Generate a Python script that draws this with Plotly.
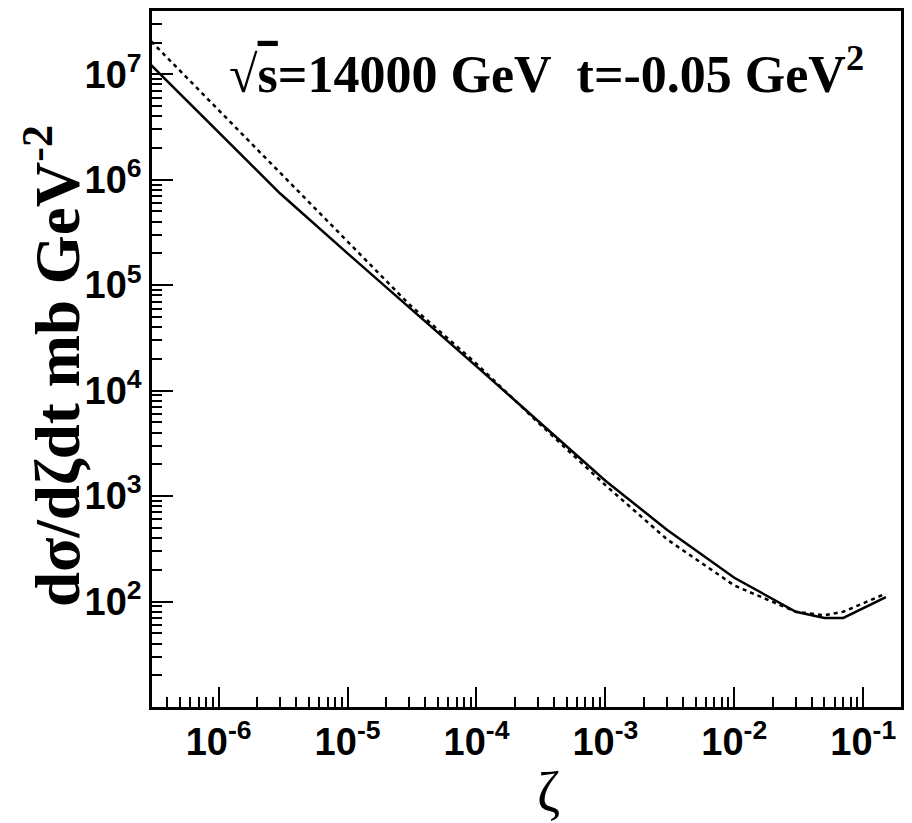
import plotly.graph_objects as go

# Single-diffractive cross section dσ/dζdt at √s = 14 TeV, t = -0.05 GeV²
zeta_solid = [3.0e-7, 3.0e-6, 1.0e-5, 1.0e-4, 1.0e-3, 3.0e-3, 1.0e-2, 3.0e-2, 5.0e-2, 7.0e-2, 0.15]
xsec_solid = [1.22e7, 7.4e5, 2.0e5, 1.7e4, 1.4e3, 480.0, 168.0, 80.0, 70.0, 70.0, 110.0]

zeta_dashed = [3.0e-7, 1.0e-6, 3.0e-6, 1.0e-5, 3.0e-5, 1.0e-4, 3.0e-4, 1.0e-3, 3.0e-3, 1.0e-2, 3.0e-2, 5.0e-2, 7.0e-2, 0.15]
xsec_dashed = [2.05e7, 4.6e6, 1.15e6, 2.6e5, 6.6e4, 1.8e4, 5.0e3, 1.27e3, 390.0, 142.0, 80.0, 74.0, 80.0, 119.0]

x_tick_vals = [1e-6, 1e-5, 1e-4, 1e-3, 1e-2, 1e-1]
x_tick_text = ["10<sup>-6</sup>", "10<sup>-5</sup>", "10<sup>-4</sup>",
               "10<sup>-3</sup>", "10<sup>-2</sup>", "10<sup>-1</sup>"]
y_tick_vals = [1e2, 1e3, 1e4, 1e5, 1e6, 1e7]
y_tick_text = ["10<sup>2</sup>", "10<sup>3</sup>", "10<sup>4</sup>",
               "10<sup>5</sup>", "10<sup>6</sup>", "10<sup>7</sup>"]

header = "√<span style='text-decoration:overline'>s</span>=14000 GeV  t=-0.05 GeV<sup>2</sup>"
y_title = "dσ/dζdt mb GeV<sup>-2</sup>"
x_title = "ζ"

tick_font = dict(family="Liberation Sans", size=38, color="black", weight="bold")
serif_bold = dict(family="Liberation Serif", color="black", weight="bold")

fig = go.Figure()
fig.add_trace(go.Scatter(x=zeta_dashed, y=xsec_dashed, mode="lines",
                         line=dict(color="black", width=2.5, dash="4px,4px"),
                         showlegend=False))
fig.add_trace(go.Scatter(x=zeta_solid, y=xsec_solid, mode="lines",
                         line=dict(color="black", width=2.5),
                         showlegend=False))

axis_common = dict(
    type="log", showgrid=False, zeroline=False,
    showline=True, linecolor="black", linewidth=2.5, mirror=True,
    ticks="inside", tickcolor="black", tickwidth=1.5,
    tickfont=tick_font,
)

fig.update_xaxes(
    **axis_common, range=[-6.517, -0.707],
    tickvals=x_tick_vals, ticktext=x_tick_text, ticklen=20,
    minor=dict(ticks="inside", ticklen=10, tickwidth=1.5, tickcolor="black", dtick="D1", showgrid=False),
)
fig.update_yaxes(
    **axis_common, range=[1.0, 7.6],
    tickvals=y_tick_vals, ticktext=y_tick_text, ticklen=21,
    minor=dict(ticks="inside", ticklen=10, tickwidth=1.5, tickcolor="black", dtick="D1", showgrid=False),
)

# axis titles placed as rotated / free annotations
fig.add_annotation(
    text=y_title, xref="paper", yref="paper", x=-0.132, y=0.49,
    xanchor="center", yanchor="middle", textangle=-90, showarrow=False,
    font=dict(**serif_bold, size=63),
)
fig.add_annotation(
    text=x_title, xref="paper", yref="paper", x=0.53, y=-0.122,
    xanchor="center", yanchor="middle", showarrow=False,
    font=dict(family="Liberation Serif", size=56, color="black"),
)

fig.add_annotation(
    text=header, xref="paper", yref="paper", x=0.527, y=0.914,
    xanchor="center", yanchor="middle", showarrow=False,
    font=dict(**serif_bold, size=52),
)

fig.update_layout(
    width=912, height=823,
    margin=dict(l=152, r=8, t=8, b=116),
    plot_bgcolor="white", paper_bgcolor="white",
)

fig.write_html("out.html")
